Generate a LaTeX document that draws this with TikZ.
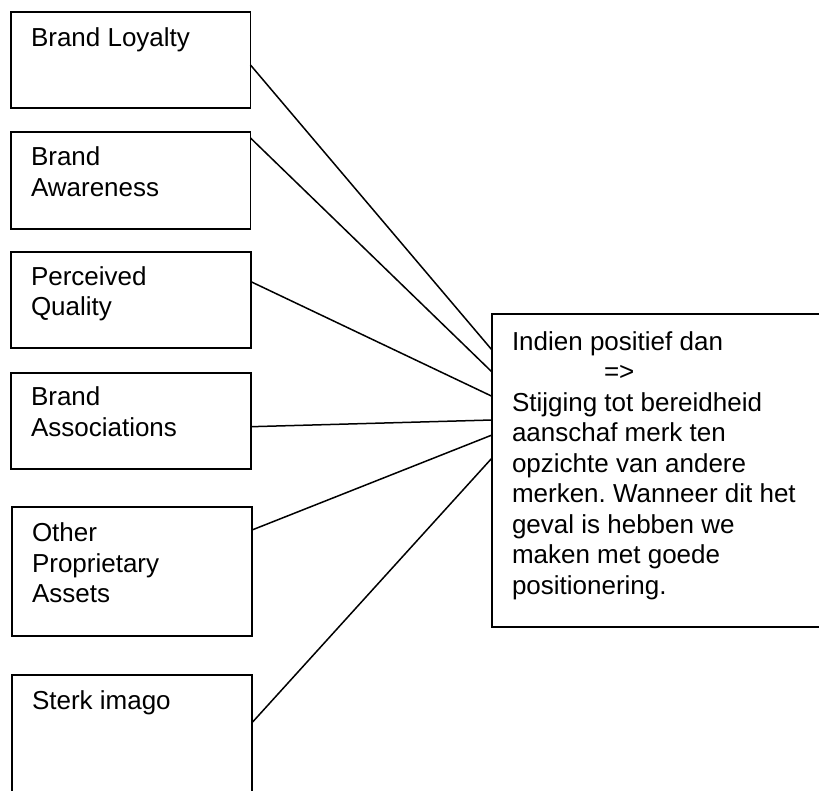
\documentclass[tikz,border=0pt]{standalone}
\usepackage{fontspec}
\setmainfont{Liberation Sans}
\usetikzlibrary{calc}

% stacked lines whose reference point is the first baseline
\newcommand{\stackedlines}[1]{\vtop{\baselineskip=30.5pt\halign{##\hfil\cr#1\crcr}}}

\begin{document}
\frenchspacing
\begin{tikzpicture}[x=1pt,y=-1pt,
  box/.style={draw=black,line width=1.8pt,fill=none,outer sep=0pt,inner sep=0pt,anchor=north west},
  lbl/.style={anchor=base west,inner sep=0pt,outer sep=0pt,
              font=\fontsize{26pt}{30.5pt}\selectfont\frenchspacing},
  link/.style={draw=black,line width=1.5pt}]

  \clip (0,0) rectangle (819,790);
  \fill[white] (0,0) rectangle (819,790);

  % factor boxes on the left
  \node[box,minimum width=239.5pt,minimum height=95.7pt] (b1) at (11,12) {};
  \node[box,minimum width=239.5pt,minimum height=97pt]   (b2) at (11,132) {};
  \node[box,minimum width=240pt,minimum height=95.7pt]   (b3) at (11,252) {};
  \node[box,minimum width=240pt,minimum height=96pt]     (b4) at (11,372.7) {};
  \node[box,minimum width=240pt,minimum height=129pt]    (b5) at (12,506.7) {};
  \node[box,minimum width=240pt,minimum height=140pt]    (b6) at (12,675) {};

  % outcome box on the right
  \node[box,minimum width=360pt,minimum height=312.4pt]  (res) at (492,314.3) {};

  % labels
  \node[lbl] (t1) at ([shift={(20pt,-34.7pt)}]b1.north west) {Brand Loyalty};
  \node[lbl] (t2) at ([shift={(20pt,-33.7pt)}]b2.north west) {\stackedlines{Brand\cr Awareness}};
  \node[lbl] (t3) at ([shift={(20pt,-33pt)}]b3.north west) {\stackedlines{Perceived\cr Quality}};
  \node[lbl] (t4) at ([shift={(20pt,-33pt)}]b4.north west) {\stackedlines{Brand\cr Associations}};
  \node[lbl] (t5) at ([shift={(20pt,-35pt)}]b5.north west) {\stackedlines{Other\cr Proprietary\cr Assets}};
  \node[lbl] (t6) at ([shift={(20pt,-34.3pt)}]b6.north west) {Sterk imago};
  \node[lbl] (tr) at ([shift={(20pt,-35.7pt)}]res.north west) {\stackedlines{%
      Indien positief dan\cr
      \hspace*{92pt}=>\cr
      Stijging tot bereidheid\cr
      aanschaf merk ten\cr
      opzichte van andere\cr
      merken. Wanneer dit het\cr
      geval is hebben we\cr
      maken met goede\cr
      positionering.}};

  % connector end points on the box borders
  \coordinate (s1) at ([yshift=-53pt]b1.north east);
  \coordinate (s2) at ([yshift=-6pt]b2.north east);
  \coordinate (s3) at ([yshift=-29.7pt]b3.north east);
  \coordinate (s4) at ([yshift=-54pt]b4.north east);
  \coordinate (s5) at ([yshift=-23.3pt]b5.north east);
  \coordinate (s6) at ([yshift=-47.7pt]b6.north east);

  \coordinate (e1) at ([yshift=-35.7pt]res.north west);
  \coordinate (e2) at ([yshift=-57.7pt]res.north west);
  \coordinate (e3) at ([yshift=-82pt]res.north west);
  \coordinate (e4) at ([yshift=-105.7pt]res.north west);
  \coordinate (e5) at ([yshift=-120.7pt]res.north west);
  \coordinate (e6) at ([yshift=-143.7pt]res.north west);

  % connectors
  \draw[link] (s1) -- (e1);
  \draw[link] (s2) -- (e2);
  \draw[link] (s3) -- (e3);
  \draw[link] (s4) -- (e4);
  \draw[link] (s5) -- (e5);
  \draw[link] (s6) -- (e6);
\end{tikzpicture}
\end{document}
